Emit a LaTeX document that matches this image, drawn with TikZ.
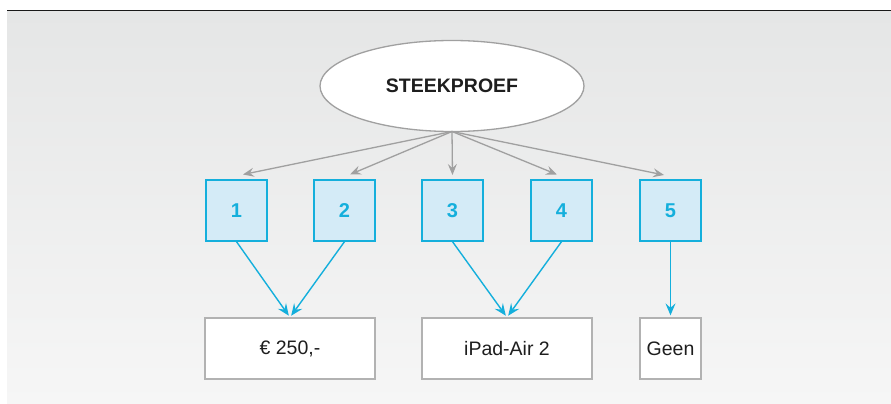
\documentclass[tikz,border=0pt]{standalone}
\usepackage{fontspec}
\setmainfont{Liberation Sans}
\usetikzlibrary{shapes.geometric,arrows.meta}
\definecolor{cyanline}{RGB}{20,175,220}
\definecolor{cyanfill}{RGB}{212,235,247}
\definecolor{grayarrow}{RGB}{160,160,160}
\definecolor{grayborder}{RGB}{178,178,178}
\definecolor{bgtop}{RGB}{229,230,230}
\definecolor{bgbot}{RGB}{246,246,246}
\definecolor{txt}{RGB}{30,30,30}
\tikzset{
  numbox/.style={draw=cyanline, fill=cyanfill, line width=1.3pt, minimum width=61pt, minimum height=61pt, inner sep=0pt, text=cyanline, font=\fontsize{20}{24}\selectfont\bfseries},
  resbox/.style={draw=grayborder, fill=white, line width=1.3pt, minimum height=61pt, inner sep=0pt, text=txt, font=\fontsize{19.5}{23}\selectfont},
  grayarr/.style={draw=grayarrow, line width=1.3pt, -{Stealth[length=11pt,width=9pt,inset=4pt]}},
  cyanarr/.style={draw=cyanline, line width=1.4pt, -{Stealth[length=12pt,width=10pt,inset=4.5pt]}, shorten >=2pt}
}
\begin{document}
\begin{tikzpicture}[x=1pt,y=-1pt]
\useasboundingbox (0,0) rectangle (891,404);
\shade[top color=bgtop, bottom color=bgbot] (7,10.5) rectangle (891,404);
\draw[line width=1.3pt, black!90] (7,10.5) -- (891,10.5);

\node[ellipse, draw=grayarrow, fill=white, line width=1.3pt, minimum width=264pt, minimum height=91pt, inner sep=0pt, text=txt, font=\fontsize{19.5}{23}\selectfont\bfseries] (s) at (452,86) {STEEKPROEF};

\node[numbox] (b1) at (236.5,210.5) {1};
\node[numbox] (b2) at (344.5,210.5) {2};
\node[numbox] (b3) at (452.5,210.5) {3};
\node[numbox] (b4) at (561.5,210.5) {4};
\node[numbox] (b5) at (670.5,210.5) {5};

\node[resbox, minimum width=170pt] (ra) at (290,348.5) {€ 250,-};
\node[resbox, minimum width=170pt] (rb) at (507,348.5) {iPad-Air 2};
\node[resbox, minimum width=61pt] (rc) at (670.5,348.5) {Geen};

\coordinate (t1) at (243,174.5);
\coordinate (t2) at (350,174.5);
\coordinate (t3) at (452.5,175);
\coordinate (t4) at (557,174.5);
\coordinate (t5) at (664,175);
\coordinate (o) at (452,131.5);

\foreach \t in {t1,t2,t3,t4,t5} \draw[grayarr] (o) -- (\t);

\draw[cyanarr] (b1.south) -- (ra.north);
\draw[cyanarr] (b2.south) -- (ra.north);
\draw[cyanarr] (b3.south) -- (rb.north);
\draw[cyanarr] (b4.south) -- (rb.north);
\draw[cyanarr] (b5.south) -- (rc.north);
\end{tikzpicture}
\end{document}
